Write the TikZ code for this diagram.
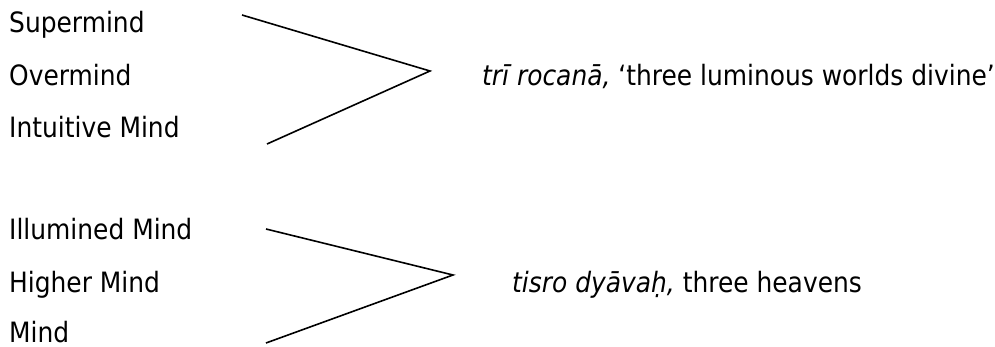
\documentclass[tikz,border=0pt]{standalone}
\usepackage{fontspec}
\setmainfont[FakeStretch=0.89]{DejaVu Sans}
\begin{document}
\begin{tikzpicture}[x=1pt,y=-1pt,
  lbl/.style={anchor=base west,inner sep=0pt,font=\fontsize{28}{30}\selectfont},
  brace/.style={line width=1.6pt,line join=miter}]
\useasboundingbox (0,0) rectangle (995,347);
% left labels
\node[lbl] (sup) at (9,33) {Supermind};
\node[lbl] (over) at (9,86) {Overmind};
\node[lbl] (intu) at (9,138) {Intuitive Mind};
\node[lbl] (illu) at (9,240) {Illumined Mind};
\node[lbl] (high) at (9,292) {Higher Mind};
\node[lbl] (mind) at (9,342) {Mind};
% right labels
\node[lbl] (tri) at (482,86) {\textit{trī rocanā,} ‘three luminous worlds divine’};
\node[lbl] (tisro) at (512,292) {\textit{tisro dyāvaḥ,} three heavens};
% converging lines
\coordinate (a1) at (242,15);
\coordinate (a2) at (430,71);
\coordinate (a3) at (267,144);
\coordinate (b1) at (266,229);
\coordinate (b2) at (453,275);
\coordinate (b3) at (266,343);
\draw[brace] (a1) -- (a2) -- (a3);
\draw[brace] (b1) -- (b2) -- (b3);
\end{tikzpicture}
\end{document}
